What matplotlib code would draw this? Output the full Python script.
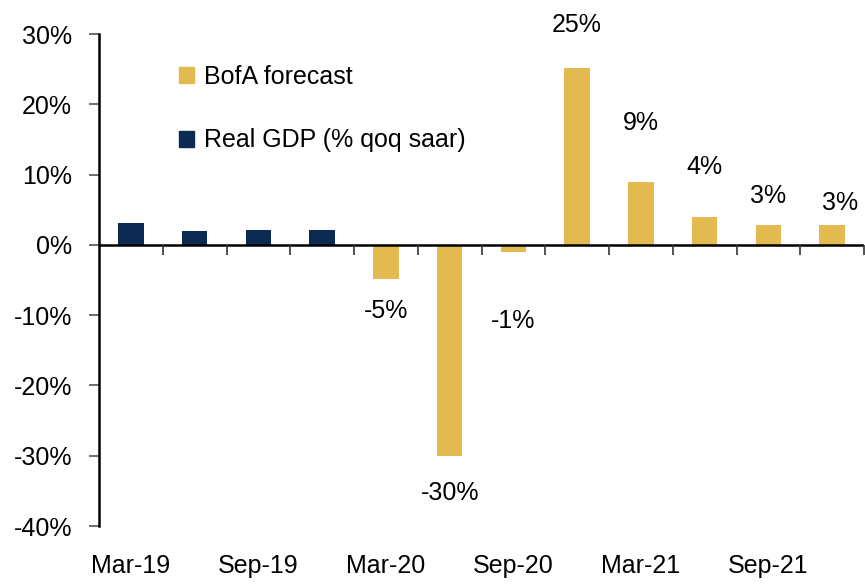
import matplotlib
matplotlib.use("Agg")
import matplotlib.pyplot as plt
from matplotlib.patches import Patch
import numpy as np

# quarterly data, Mar-19 .. Dec-21
quarters = ["Mar-19", "Jun-19", "Sep-19", "Dec-19",
            "Mar-20", "Jun-20", "Sep-20", "Dec-20",
            "Mar-21", "Jun-21", "Sep-21", "Dec-21"]
real_gdp = [3.1, 2.0, 2.1, 2.1, None, None, None, None, None, None, None, None]
bofa_fcst = [None, None, None, None, -4.9, -30.1, -1.0, 25.1, 9.0, 4.0, 2.8, 2.8]
fcst_labels = ["-5%", "-30%", "-1%", "25%", "9%", "4%", "3%", "3%"]

# label placement (pixels away from bar end), styling only
label_dy = [32, 37, 69, 43, 59, 50, 29, 22]
label_dx = [0, 0, 0, 0, 0, 0, 0, 8]

GOLD = "#E2BA4F"
NAVY = "#0C2A52"

plt.rcParams["font.family"] = ["Liberation Sans", "DejaVu Sans"]
FS = 18

fig = plt.figure(figsize=(8.65, 5.84), dpi=100)
ax = fig.add_axes([99 / 865, 58 / 584, 765 / 865, 492 / 584])

x = np.arange(len(quarters))
gdp = np.array([np.nan if v is None else v for v in real_gdp])
fc = np.array([np.nan if v is None else v for v in bofa_fcst])

ax.bar(x, gdp, width=0.4, color=NAVY, zorder=2)
ax.bar(x, fc, width=0.4, color=GOLD, zorder=2)

px = 0.72  # points per pixel
fx = x[~np.isnan(fc)]
fv = fc[~np.isnan(fc)]
for xi, v, lab, dy, dx in zip(fx, fv, fcst_labels, label_dy, label_dx):
    sign = 1 if v >= 0 else -1
    ax.annotate(lab, (xi, v), xytext=(dx * px, sign * dy * px),
                textcoords="offset points", ha="center", va="center",
                fontsize=FS, color="black")

ax.set_xlim(-0.5, len(quarters) - 0.5)
ax.set_ylim(-40, 30)
ax.set_yticks(np.arange(-40, 31, 10))
ax.set_yticklabels([f"{t}%" for t in range(-40, 31, 10)], fontsize=FS)

# category labels every other quarter
ax.set_xticks(x[::2])
ax.set_xticklabels(quarters[::2], fontsize=FS)
ax.tick_params(axis="x", length=0, pad=20)
ax.tick_params(axis="y", length=7, width=1.2, color="#555555", pad=12.5, direction="out")

for s in ["top", "right", "bottom"]:
    ax.spines[s].set_visible(False)
ax.spines["left"].set_linewidth(1.8)

# zero line with category boundary ticks
ax.axhline(0, color="black", linewidth=1.8, zorder=3)
bounds = np.arange(0.5, len(quarters), 1.0)
ax.plot(bounds, np.zeros_like(bounds), linestyle="none", marker=3,
        markersize=7, markeredgewidth=1.2, color="#333333", zorder=3)

handles = [Patch(color=GOLD, label="BofA forecast"),
           Patch(color=NAVY, label="Real GDP (% qoq saar)")]
ax.legend(handles=handles, loc="upper left", bbox_to_anchor=(0.105, 0.937),
          frameon=False, fontsize=FS, handlelength=0.6, handleheight=0.6,
          handletextpad=0.4, labelspacing=1.58, borderpad=0, borderaxespad=0)

fig.savefig("out.png", dpi=100)
